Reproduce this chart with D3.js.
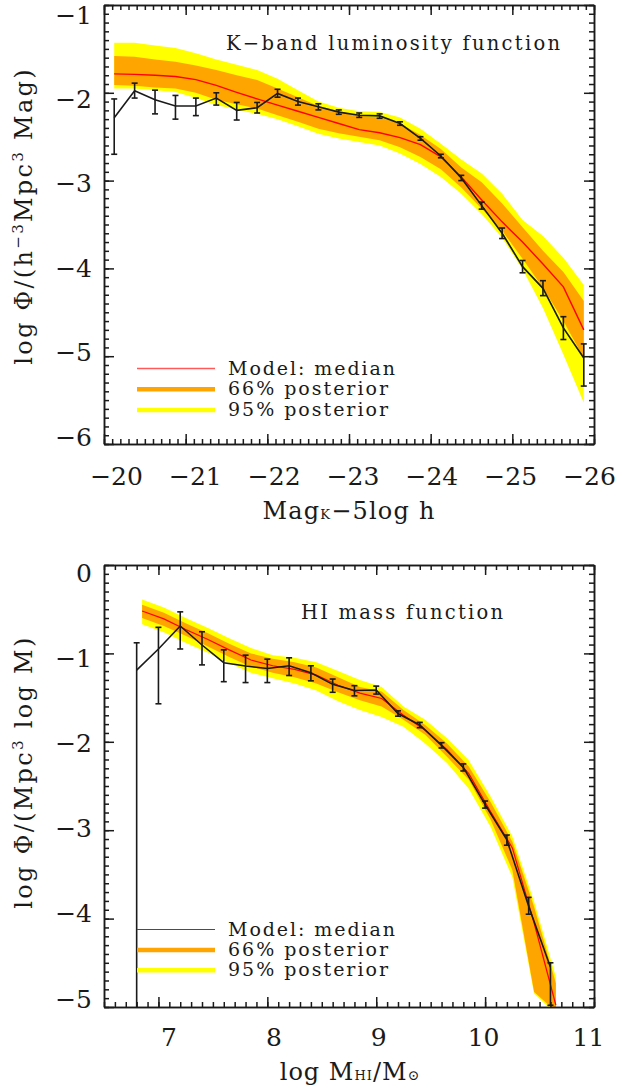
<!DOCTYPE html>
<html>
<head>
<meta charset="utf-8">
<script src="https://cdn.jsdelivr.net/npm/d3@7"></script>
<style>
  html, body { margin: 0; padding: 0; background: #fff; }
  svg { display: block; }
</style>
</head>
<body>
<svg id="chart" width="624" height="1088"></svg>
<script>
// ---------- K-band luminosity function ----------
const kMag = [-20.125, -20.375, -20.625, -20.875, -21.125, -21.375, -21.625, -21.875,
  -22.125, -22.375, -22.625, -22.875, -23.125, -23.375, -23.625, -23.875,
  -24.125, -24.375, -24.625, -24.875, -25.125, -25.375, -25.625, -25.875];
// observed values with asymmetric error bounds
const kObs   = [-2.285, -1.977, -2.08, -2.15, -2.15, -2.06, -2.20, -2.17, -2.007, -2.10, -2.16, -2.22,
  -2.255, -2.263, -2.35, -2.52, -2.72, -2.97, -3.285, -3.60, -3.98, -4.227, -4.677, -5.02];
const kObsHi = [-2.07, -1.89, -1.97, -2.03, -2.06, -2.00, -2.11, -2.11, -1.96, -2.06, -2.125, -2.195,
  -2.23, -2.24, -2.33, -2.50, -2.70, -2.94, -3.245, -3.54, -3.91, -4.14, -4.55, -4.86];
const kObsLo = [-2.70, -2.06, -2.24, -2.30, -2.26, -2.14, -2.31, -2.23, -2.05, -2.14, -2.195, -2.245,
  -2.28, -2.29, -2.37, -2.54, -2.74, -3.00, -3.325, -3.66, -4.05, -4.31, -4.81, -5.34];
// model posterior
const kMedian = [-1.785, -1.79, -1.80, -1.815, -1.85, -1.915, -1.995, -2.07, -2.14, -2.21, -2.28, -2.35,
  -2.42, -2.455, -2.51, -2.59, -2.73, -2.96, -3.22, -3.47, -3.70, -3.95, -4.21, -4.70];
const k66Hi = [-1.58, -1.59, -1.62, -1.645, -1.69, -1.74, -1.80, -1.855, -1.95, -2.05, -2.15, -2.21,
  -2.26, -2.28, -2.35, -2.48, -2.64, -2.85, -3.02, -3.26, -3.53, -3.80, -4.04, -4.37];
const k66Lo = [-1.91, -1.92, -1.94, -1.95, -2.00, -2.08, -2.13, -2.18, -2.255, -2.33, -2.41, -2.46,
  -2.50, -2.54, -2.62, -2.73, -2.87, -3.08, -3.32, -3.57, -3.89, -4.22, -4.60, -5.02];
const k95Hi = [-1.43, -1.43, -1.46, -1.49, -1.55, -1.62, -1.68, -1.74, -1.84, -1.97, -2.10, -2.17,
  -2.21, -2.22, -2.28, -2.41, -2.58, -2.76, -2.92, -3.15, -3.45, -3.63, -3.88, -4.19];
const k95Lo = [-1.95, -1.95, -1.97, -1.99, -2.06, -2.14, -2.19, -2.24, -2.30, -2.38, -2.465, -2.52,
  -2.56, -2.60, -2.69, -2.81, -2.96, -3.15, -3.38, -3.65, -4.01, -4.45, -4.98, -5.53];
const kXTicks = [-20, -21, -22, -23, -24, -25, -26];
const kYTicks = [-1, -2, -3, -4, -5, -6];

// ---------- HI mass function ----------
const hiMass = [6.8, 7.0, 7.2, 7.4, 7.6, 7.8, 8.0, 8.2, 8.4, 8.6, 8.8, 9.0, 9.2, 9.4, 9.6, 9.8, 10.0, 10.2, 10.4, 10.6];
const hiObs   = [-1.19, -0.95, -0.69, -0.905, -1.105, -1.143, -1.17, -1.14, -1.22, -1.35, -1.42, -1.414,
  -1.68, -1.81, -2.04, -2.29, -2.71, -3.11, -3.86, -4.55];
const hiObsHi = [-0.88, -0.705, -0.53, -0.755, -0.96, -1.02, -1.065, -1.05, -1.14, -1.29, -1.365, -1.37,
  -1.65, -1.78, -2.01, -2.25, -2.67, -3.055, -3.76, -4.50];
const hiObsLo = [-5.5, -1.57, -0.95, -1.13, -1.32, -1.33, -1.33, -1.25, -1.31, -1.44, -1.48, -1.46,
  -1.71, -1.84, -2.07, -2.33, -2.75, -3.17, -3.95, -4.98];
const hiModelMass = [6.85, 7.05, 7.25, 7.45, 7.65, 7.85, 8.05, 8.25, 8.45, 8.65, 8.85, 9.05, 9.25, 9.45,
  9.65, 9.85, 10.05, 10.25, 10.45, 10.65];
const hiMedian = [-0.52, -0.61, -0.73, -0.84, -0.96, -1.075, -1.14, -1.18, -1.245, -1.36, -1.45, -1.51,
  -1.70, -1.87, -2.09, -2.36, -2.79, -3.20, -4.05, -4.98];
const hi95Hi = [-0.39, -0.48, -0.60, -0.71, -0.83, -0.94, -1.02, -1.05, -1.10, -1.20, -1.30, -1.38,
  -1.60, -1.75, -1.96, -2.21, -2.62, -3.07, -3.81, -4.66];
const hi66Hi = [-0.45, -0.54, -0.66, -0.77, -0.89, -1.00, -1.06, -1.10, -1.16, -1.27, -1.38, -1.43,
  -1.64, -1.81, -2.02, -2.28, -2.68, -3.13, -3.87, -4.73];
const hi66Lo = [-0.60, -0.69, -0.80, -0.92, -1.04, -1.15, -1.22, -1.27, -1.34, -1.44, -1.53, -1.60,
  -1.75, -1.92, -2.17, -2.43, -2.88, -3.45, -4.83, -5.05];
const hi95Lo = [-0.67, -0.76, -0.88, -0.99, -1.11, -1.22, -1.28, -1.34, -1.42, -1.54, -1.64, -1.72,
  -1.83, -2.02, -2.24, -2.53, -2.96, -3.53, -4.85, -5.08];
const hiXTicks = [7, 8, 9, 10, 11];
const hiYTicks = [0, -1, -2, -3, -4, -5];

const legendLabels = ["Model: median", "66% posterior", "95% posterior"];

// ---------- drawing ----------
const FONT = "'DejaVu Serif', serif";
const INK = "#1a1a1a";
const ORANGE = "#ffa500", YELLOW = "#ffff00", RED = "#ff0000";
const svg = d3.select("#chart");

function minorValues(domain, step) {
  const lo = Math.min(domain[0], domain[1]), hi = Math.max(domain[0], domain[1]);
  const out = [];
  for (let v = Math.ceil(lo / step - 1e-6); v * step <= hi + 1e-9; v++) out.push(+(v * step).toFixed(4));
  return out;
}

function drawPanel(cfg) {
  const { x, y, id } = cfg;
  const [x0, x1] = x.range(), [yb, yt] = y.range();
  const g = svg.append("g");

  g.append("clipPath").attr("id", id).append("rect")
    .attr("x", x0).attr("y", yt).attr("width", x1 - x0).attr("height", yb - yt);
  const plot = g.append("g").attr("clip-path", `url(#${id})`);

  const rows = cfg.mx.map((m, i) => ({ m, med: cfg.med[i], h66: cfg.h66[i], l66: cfg.l66[i], h95: cfg.h95[i], l95: cfg.l95[i] }));
  const band = (lo, hi) => d3.area().x(d => x(d.m)).y0(d => y(d[lo])).y1(d => y(d[hi]));
  plot.append("path").datum(rows).attr("d", band("l95", "h95")).attr("fill", YELLOW);
  plot.append("path").datum(rows).attr("d", band("l66", "h66")).attr("fill", ORANGE);
  plot.append("path").datum(rows)
    .attr("d", d3.line().x(d => x(d.m)).y(d => y(d.med)))
    .attr("fill", "none").attr("stroke", RED).attr("stroke-width", cfg.medWidth);

  const obs = cfg.ox.map((m, i) => ({ m, v: cfg.ov[i], hi: cfg.ohi[i], lo: cfg.olo[i] }));
  plot.append("path").datum(obs)
    .attr("d", d3.line().x(d => x(d.m)).y(d => y(d.v)))
    .attr("fill", "none").attr("stroke", INK).attr("stroke-width", 1.6);
  const eb = plot.append("g").attr("stroke", INK).attr("stroke-width", 1.6).attr("fill", "none");
  eb.selectAll("line.v").data(obs).join("line").attr("class", "v")
    .attr("x1", d => x(d.m)).attr("x2", d => x(d.m)).attr("y1", d => y(d.hi)).attr("y2", d => y(d.lo));
  eb.selectAll("line.t").data(obs).join("line").attr("class", "t")
    .attr("x1", d => x(d.m) - 3).attr("x2", d => x(d.m) + 3).attr("y1", d => y(d.hi)).attr("y2", d => y(d.hi));
  eb.selectAll("line.b").data(obs.filter(d => d.lo >= y.domain()[0])).join("line").attr("class", "b")
    .attr("x1", d => x(d.m) - 3).attr("x2", d => x(d.m) + 3).attr("y1", d => y(d.lo)).attr("y2", d => y(d.lo));

  // frame with inward major and minor ticks on all four sides
  const axes = [
    [d3.axisTop, `translate(0,${yb})`, x, cfg.xTicks, cfg.xMinor],
    [d3.axisBottom, `translate(0,${yt})`, x, cfg.xTicks, cfg.xMinor],
    [d3.axisRight, `translate(${x0},0)`, y, cfg.yTicks, cfg.yMinor],
    [d3.axisLeft, `translate(${x1},0)`, y, cfg.yTicks, cfg.yMinor]
  ];
  axes.forEach(([fn, tr, sc, major, minor]) => {
    const a = g.append("g").attr("transform", tr);
    a.append("g").call(fn(sc).tickValues(minor).tickSize(5).tickSizeOuter(0).tickFormat(""));
    a.append("g").call(fn(sc).tickValues(major).tickSize(10).tickSizeOuter(0).tickFormat(""));
    a.selectAll("path, line").attr("stroke", INK).attr("stroke-width", 1.5);
  });

  // tick labels: the label row is set slightly inside the tick span so the end labels stay on the page
  const xLab = x.copy().range(cfg.xLabRange);
  const yLab = y.copy().range(cfg.yLabRange);
  const xl = g.append("g").attr("transform", `translate(0,${yb})`)
    .call(d3.axisBottom(xLab).tickValues(cfg.xTicks).tickSize(0).tickPadding(cfg.xPad).tickFormat(d3.format("d")));
  const yl = g.append("g").attr("transform", `translate(${x0},0)`)
    .call(d3.axisLeft(yLab).tickValues(cfg.yTicks).tickSize(0).tickPadding(12).tickFormat(d3.format("d")));
  [xl, yl].forEach(a => {
    a.select(".domain").remove();
    a.attr("font-family", FONT).attr("font-size", 25);
    a.selectAll("text").attr("fill", INK);
  });

  // title inside the panel
  g.append("text").attr("x", cfg.title.x).attr("y", cfg.title.y)
    .attr("font-family", FONT).attr("font-size", 19.5).attr("fill", INK)
    .attr("textLength", cfg.title.w).attr("lengthAdjust", "spacing").text(cfg.title.text);

  // legend
  const leg = g.append("g");
  const legStyles = [
    { c: RED, w: cfg.legMedWidth, o: cfg.legMedOpacity },
    { c: ORANGE, w: 4.5, o: 1 },
    { c: YELLOW, w: 4.5, o: 1 }
  ];
  legendLabels.forEach((lab, i) => {
    const ly = cfg.leg.y + i * cfg.leg.dy;
    leg.append("line").attr("x1", cfg.leg.x1).attr("x2", cfg.leg.x2).attr("y1", ly).attr("y2", ly)
      .attr("stroke", legStyles[i].c).attr("stroke-width", legStyles[i].w).attr("stroke-opacity", legStyles[i].o);
    leg.append("text").attr("x", cfg.leg.tx).attr("y", ly + 6)
      .attr("font-family", FONT).attr("font-size", 19).attr("fill", INK)
      .attr("textLength", i === 0 ? 167 : 160).attr("lengthAdjust", "spacing").text(lab);
  });
  return g;
}

// top panel
const xK = d3.scaleLinear().domain([-20, -26]).range([104, 594]);
const yK = d3.scaleLinear().domain([-6, -1]).range([444, 5]);
drawPanel({
  id: "clipK", x: xK, y: yK,
  mx: kMag, med: kMedian, h66: k66Hi, l66: k66Lo, h95: k95Hi, l95: k95Lo, medWidth: 1.4,
  ox: kMag, ov: kObs, ohi: kObsHi, olo: kObsLo,
  xTicks: kXTicks, xMinor: minorValues(xK.domain(), 0.1),
  yTicks: kYTicks, yMinor: minorValues(yK.domain(), 0.1),
  xLabRange: [116, 589], yLabRange: [437, 15],
  xPad: 23,
  title: { x: 226, y: 50, w: 334, text: "K−band luminosity function" },
  leg: { x1: 137, x2: 215, tx: 228, y: 368.5, dy: 20.8 },
  legMedWidth: 1.3, legMedOpacity: 0.65
});

// bottom panel
const xH = d3.scaleLinear().domain([6.5, 11]).range([104, 594]);
const yH = d3.scaleLinear().domain([-5, 0]).range([1007, 565]);
drawPanel({
  id: "clipH", x: xH, y: yH,
  mx: hiModelMass, med: hiMedian, h66: hi66Hi, l66: hi66Lo, h95: hi95Hi, l95: hi95Lo, medWidth: 1.2,
  ox: hiMass, ov: hiObs, ohi: hiObsHi, olo: hiObsLo,
  xTicks: hiXTicks, xMinor: minorValues(xH.domain(), 0.1),
  yTicks: hiYTicks, yMinor: minorValues(yH.domain(), 0.1),
  xLabRange: [116, 588], yLabRange: [999, 573],
  xPad: 21,
  title: { x: 301, y: 618.5, w: 202, text: "HI mass function" },
  leg: { x1: 137, x2: 215, tx: 228, y: 929.5, dy: 20.4 },
  legMedWidth: 1.1, legMedOpacity: 1
});

// axis titles
function axisTitle(parts, attrs) {
  const t = svg.append("text").attr("font-family", FONT).attr("fill", INK).attr("font-size", 24);
  Object.entries(attrs).forEach(([k, v]) => t.attr(k, v));
  parts.forEach(p => {
    const s = t.append("tspan").text(p.t);
    if (p.size) s.attr("font-size", p.size);
    if (p.dy) s.attr("dy", p.dy);
  });
  return t;
}

axisTitle([{ t: "Mag" }, { t: "K", size: 13 }, { t: "−5log h" }],
  { x: 349, y: 519, "text-anchor": "middle", "letter-spacing": 1.2 });
axisTitle([{ t: "log  M" }, { t: "HI", size: 13 }, { t: "/M" }, { t: "⊙", size: 14 }],
  { x: 350, y: 1080, "text-anchor": "middle", "letter-spacing": 1 });

axisTitle([{ t: "log Φ/(h" }, { t: "−3", size: 15, dy: -9 }, { t: "Mpc", dy: 9 }, { t: "3", size: 15, dy: -9 }, { t: " Mag)", dy: 9 }],
  { transform: "translate(32,216) rotate(-90)", "text-anchor": "middle", "letter-spacing": 2.3 });
axisTitle([{ t: "log Φ/(Mpc" }, { t: "3", size: 15, dy: -9 }, { t: " log M)", dy: 9 }],
  { transform: "translate(32,772) rotate(-90)", "text-anchor": "middle", "letter-spacing": 2.3 });
</script>
</body>
</html>
